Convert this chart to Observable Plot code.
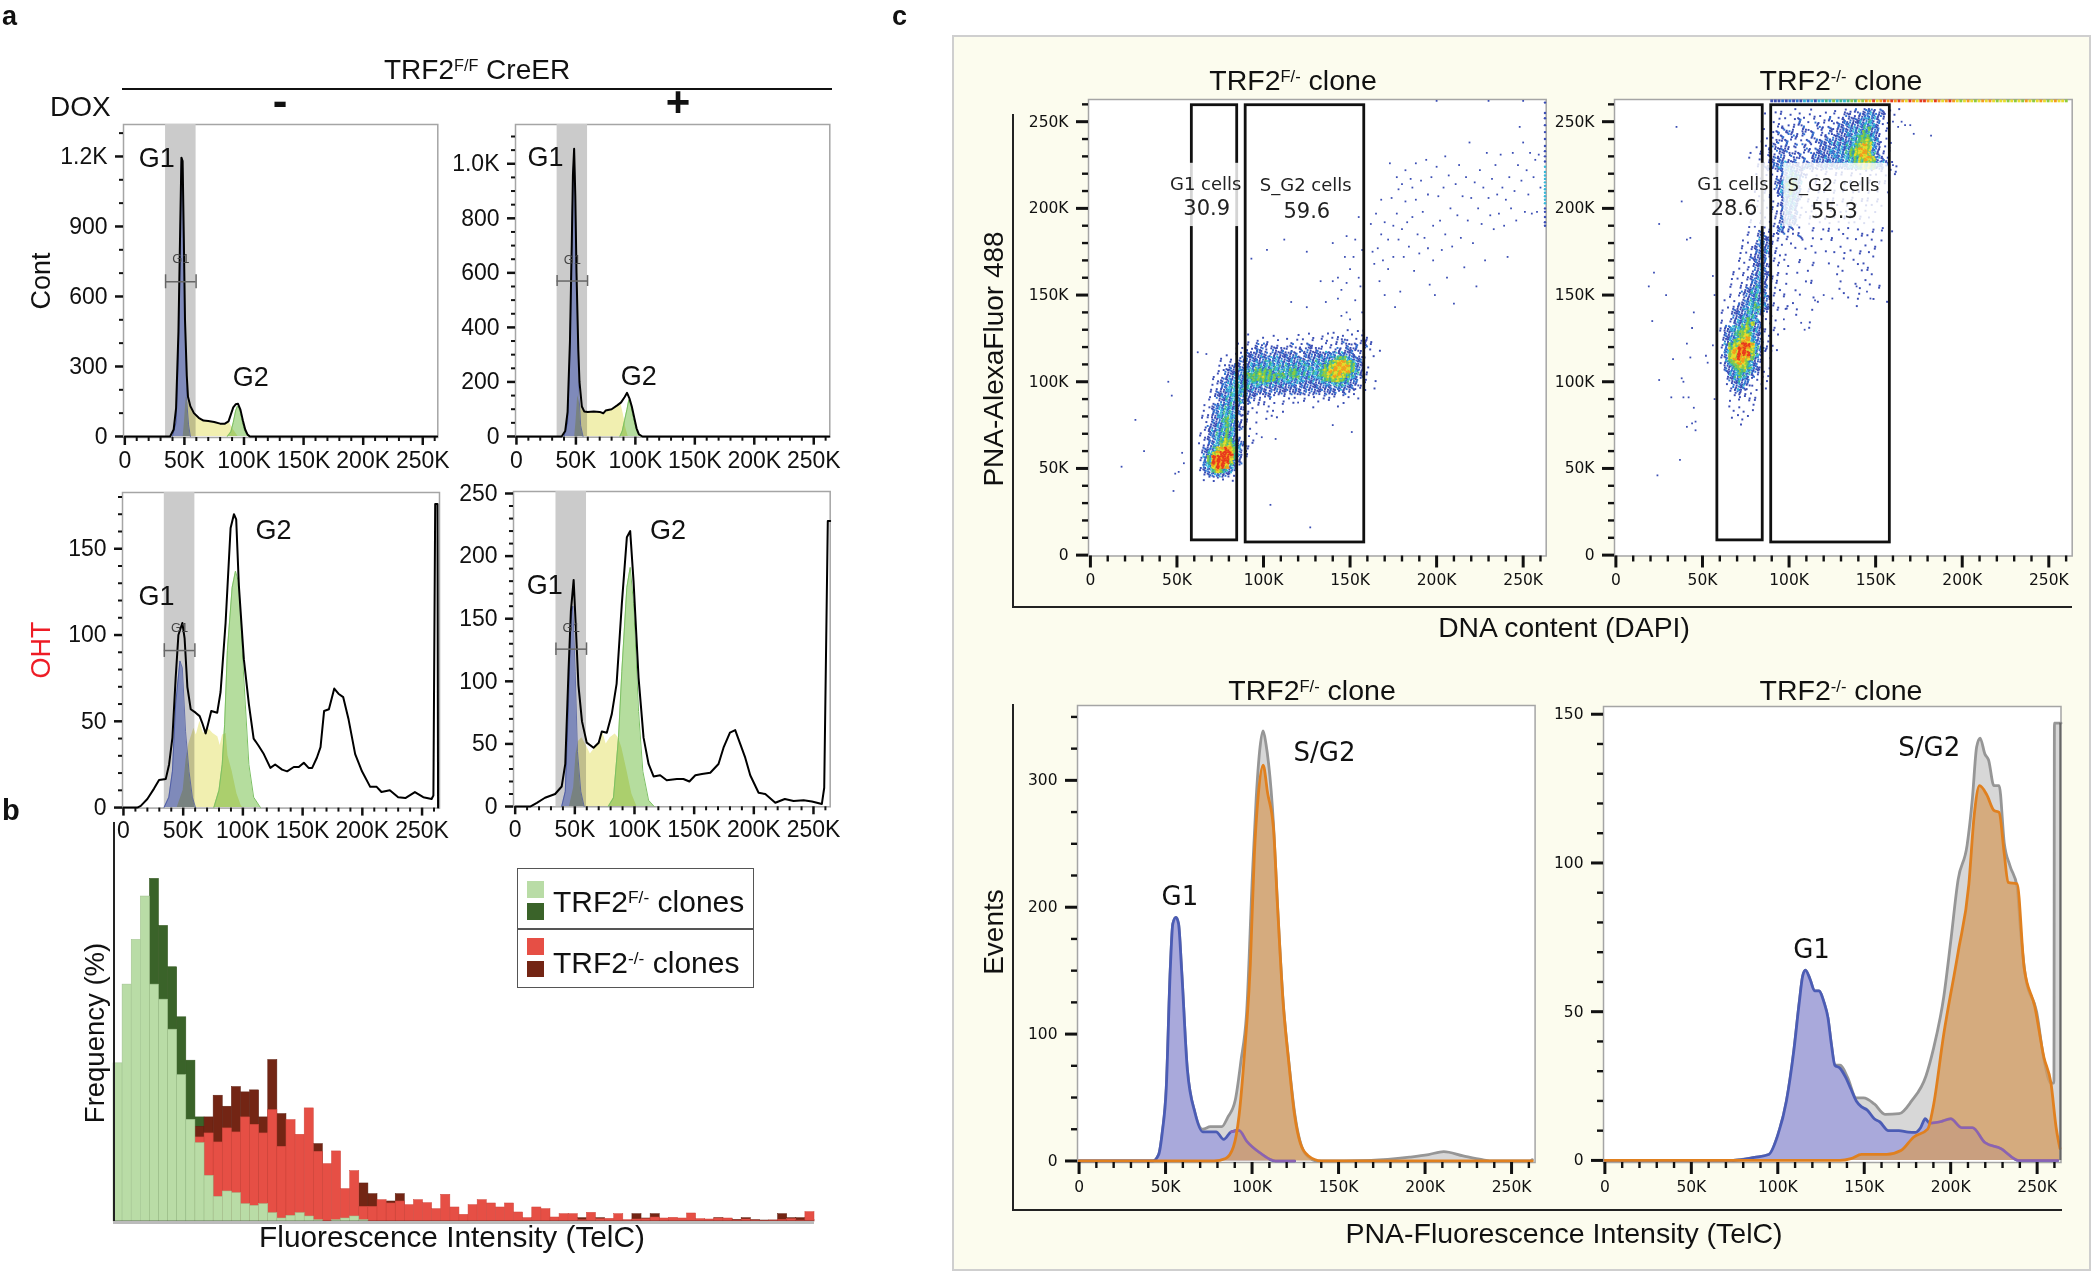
<!DOCTYPE html>
<html><head><meta charset="utf-8">
<script src="https://cdn.jsdelivr.net/npm/d3@7"></script>
<script src="https://cdn.jsdelivr.net/npm/@observablehq/plot@0.6"></script>
<style>
html,body{margin:0;padding:0;background:#fff}
#page{position:relative;width:2100px;height:1273px;overflow:hidden;font-family:"Liberation Sans",Arial,sans-serif;color:#111}
#page svg{position:absolute;background:transparent;overflow:visible}
.t{position:absolute;white-space:nowrap;line-height:normal}
sup{font-size:.58em;vertical-align:baseline;position:relative;top:-.5em;line-height:0}
</style></head><body><div id="page"></div>
<script>
// ---------- panel a : histograms, x in thousands, [x, count]
const a1_black=[[0,0],[38,0],[41,30],[43,120],[45,450],[46.5,900],[47.5,1195],[48.5,1180],[49.5,850],[50.5,500],[52,260],[53,170],[55,130],[58,100],[62,80],[66,68],[70,66],[75,62],[80,55],[84,55],[87,65],[89,95],[91,125],[93,138],[95,140],[97,115],[99,70],[101,30],[103,8],[105,0],[262,0]];
const a1_blue=[[40,0],[43,60],[45,350],[46.5,850],[47.5,1180],[48.5,1150],[49.5,800],[50.5,450],[52,150],[53.5,50],[55,0]];
const a1_yellow=[[49,0],[50,60],[51.5,170],[53,150],[55,125],[58,100],[62,80],[66,68],[70,66],[75,62],[80,55],[84,55],[88,58],[91,30],[95,0]];
const a1_green=[[86,0],[89,20],[91,60],[93,110],[94.5,130],[96,120],[98,70],[100,30],[102,8],[104,0]];
const a2_black=[[0,0],[38,0],[41,20],[43,90],[45,350],[46.5,700],[47.5,960],[48.5,1055],[49.5,880],[50.5,600],[52,320],[53,200],[55,110],[57,92],[60,90],[65,92],[70,90],[73,85],[75,95],[80,100],[85,115],[88,125],[91,145],[93,160],[95,140],[97,110],[99,70],[101,30],[103,8],[106,0],[263,0]];
const a2_blue=[[40,0],[43,50],[45,320],[46.5,700],[47.5,950],[48.5,1050],[49.5,860],[50.5,560],[52,200],[54,40],[56,0]];
const a2_yellow=[[49,0],[50,50],[51.5,150],[53,125],[55,100],[57,92],[60,90],[65,92],[70,90],[73,85],[75,95],[80,100],[85,110],[88,118],[90,80],[92,30],[94,0]];
const a2_green=[[87,0],[89,20],[91,60],[93,100],[94.5,135],[96,115],[98,70],[100,35],[102,10],[105,0]];
const a3_black=[[0,0],[11.7,0],[14.5,1],[20,5],[25.6,11],[29.8,16],[35.4,16.5],[38.2,25],[41,40.6],[43.7,75],[46,100],[49.3,107],[51.2,98],[53.5,70],[56.3,57],[60.4,55],[63.8,53],[66,49],[68.8,43],[70.7,48],[73.5,56],[78.5,55],[81.3,67],[85.5,107],[89.7,162],[92.5,170],[94.4,167],[96.6,129],[100.8,86],[105,60],[109,40],[113,36],[117.5,31],[123,23],[127,25],[132.8,22],[137,21],[142.6,23.5],[146.8,23.5],[151,26],[155,23],[158,23],[162,29],[165,35],[168,56],[172,57],[176.5,69],[180,66],[184,64],[188.5,51],[194,31],[199.7,21],[206.6,12],[212,12],[216,9],[223,10],[230,6],[236,5.5],[244,9],[251,6],[258,5],[259.5,7],[261,176],[262.9,176],[263.4,0]];
const a3_blue=[[34,0],[38,6],[41,21],[43.7,60],[47.3,85],[49.3,81],[52,44],[54.9,21],[57.7,6],[60.4,0]];
const a3_yellow=[[45,0],[50,10],[52.5,28],[54.8,37],[59,46],[61,42],[64,50],[67,43],[71,46],[75,43],[79,41],[81,36],[83,42],[86,43],[87.5,30],[91,21],[95,8],[98.6,1],[100,0]];
const a3_green=[[75.7,0],[80,10],[82.7,25],[84.7,48],[87,91],[91,127.5],[93.8,137],[96.6,130],[99.4,91],[102,60],[105,25],[109,6],[114.7,0]];
const a4_black=[[0,0],[12.6,0],[18.2,3],[25,7],[33.5,10],[39,16],[42,34],[44.7,108],[46.7,156],[49,181],[51,140],[53,97],[56,68],[60,51],[65.7,47],[70,51],[72.6,60],[76.8,59],[81,74],[85,98],[89.4,162],[93.6,215],[96.4,220],[99.2,180],[103.4,103],[107.6,55],[111.8,34],[116,24],[121.5,25],[127,21],[135.5,22],[141,22],[146,20],[151,25],[156.5,26],[163.5,27],[170.4,34],[174.6,47],[180,59],[184.4,61],[188.6,50],[192.8,39],[197,25],[204,11],[209.6,10],[218,3],[226,6],[233.3,4.5],[241.7,5],[248.7,4],[257,2],[259,15],[262,228],[264,228]];
const a4_blue=[[39,0],[42,12],[44.7,82],[46.7,148],[48.3,160],[50.3,108],[52.2,44],[55,12],[57.8,0]];
const a4_yellow=[[45.5,0],[49,15],[51,42],[53,52],[56,55],[60,48],[63,42],[67,47],[71,53],[73.5,59],[76.3,50],[79.6,55],[83.8,58],[86.6,55],[89.4,47],[93.6,29],[97.8,10],[102,0]];
const a4_green=[[78,0],[82.4,7],[86.6,55],[89.4,108],[93.6,175],[96.4,191],[99.2,162],[103.4,76],[107,28],[111.8,5],[116.5,0]];

// ---------- panel b : frequency per bin (arbitrary % units)
const b_light=[47.4,71,84.4,97.4,71,66.5,57.5,43.9,30.5,23.5,13.7,7.4,9,8.5,5.2,4.7,5.2,2.5,.9,1.7,2.5,1.5,.4,0,.4,.9,1.5,.4];
const b_darkGreen=[0,0,0,0,102.7,88.6,76.2,61.2,48.2,31.2,.4,.4,.4,.4,.4,.4,.4,.4,.4,.4,.4,.4,.4,.4,.4,.4,.4,.4];
const b_red=[0,0,0,0,0,0,0,0,0,25.2,26.4,23.7,27.9,26.7,31.2,29,26.4,33.4,22.4,30.4,26,33.9,20.9,17.2,21,9.7,15.1,4.4,4.4,6.4,5.4,6,4.9,6.4,5.5,3.7,8,4.2,2,4.9,6.4,5.4,4.2,5.4,2.7,1,4.2,3.7,1.2,2.2,2.2,.4,2.6,.7,.8,2.2,.4,.6,.7,1.2,.9,1.1,.9,2.4,.7,.6,.9,.9,.3,.6,.3,.2,.3,.5,.7,.3,2.8];
const b_darkRed=[0,0,0,0,0,0,0,0,0,28.4,31.2,37.7,34.4,40.3,38.7,39.3,31.2,48.4,32.2,0,0,0,23.2,0,0,0,0,11.4,8.2,0,6,8.2,0,0,0,0,0,0,0,0,0,0,0,0,0,0,0,0,0,0,0,1,0,1,0,0,0,2.2,.9,2.2,.6,0,0,0,0,0,1,.8,.5,1,.4,.3,.3,2.2,1,1,.4];

// ---------- panel c, top : density readings, 2.5K cells, top row first; . none, 1 sparse ... 8 hottest
const c1_rowTops=[130,127.5,125,122.5,120,117.5,115,112.5,110,107.5,105,102.5,100,97.5,95,92.5,90,87.5,85,82.5,80,77.5,75,72.5,70,67.5,65,62.5,60,57.5,55,52.5,50,47.5,45];
const c1_density=[
"..........................1...1.1..1.1.1....",
"............1..1..1.....1..1.1.1.11.1.11....",
"............1.1.1..1.1.1.1.1.11.1121.1121...",
"..........1.1.2121.1.12.1.21.1111.1212121...",
".........1.1112211212111212121.1121222111.1",
".......1.1112222212222221222223232322.1..",
"......1.1.1222232333223322223333455432 21.1".replace(" ",""),
"......1.112223334433333343334345677653 21..".replace(" ",""),
".....1.12222334444443444344334567777532 11.".replace(" ",""),
".....11222334455554444554444456777775421..",
"....11.2233455565555545544444566776543 21..".replace(" ",""),
"....1122333445555554444343333455665432 11.1".replace(" ",""),
"....1123334444444333333322222333444322 11..".replace(" ",""),
"...1.1234444433222222222222222222322 2111.1".replace(" ",""),
"...112234443222222122122221221222121 1.....".replace(" ",""),
"...1123444322211121.11.1.111.1111.11.1......",
"...1.123444321111.1.1.1..1..1..1..1.........",
"..11233443211.1.11..1......1.....1..........",
"..1.2344432111..1.1.1.......................",
".1.1234443211.1..1..........................",
".1.12345431.1...1..1........................",
"..11234543211.1.............................",
"..122345432.1...............................",
".1123445431.................................",
".1123445421.1...............................",
"..1224565321.1..............................",
".1123466643211..............................",
".1234678753.1...............................",
".1246788853.1...............................",
".1358888752.1...............................",
".1358888632.................................",
".1347887421.................................",
".123575431..................................",
"..12332211..................................",
"..1.111.1..................................."];
const c1_sparse=[[18,51],[26,78],[31,60],[45,100],[47,92],[53,59],[49,47],[48,37],[51,48],[104,29],[127,16],[62,117],[67,116],[54,53],
[93,171],[102,176],[112,182],[125,175],[140,180],[148,184],[155,195],[153,182],[157,176],[150,165],[158,168],[147,172],[143,160],[140,158],[148,157],[145,153],[156,155],[133,158],[125,143],[116,146],[136,146],[148,140],[153,147],[157,140],[150,136],[145,138],[143,148],[152,172],[155,160],[90,60],[88,74],[96,70],[99,68],[107,67],[120,88],[140,75],[151,71],
[162,191],[163,175],[164,168],[165,197],[166,177],[167,158],[168,205],[168,185],[169,170],[170,192],[170,150],[172,182],[172,165],[173,226],[174,206],[175,190],[175,172],[176,143],[177,218],[177,197],[178,211],[178,182],[179,152],[180,214],[180,188],[181,172],[182,222],[182,204],[183,192],[184,178],[185,217],[186,212],[186,195],[187,164],[188,226],[188,205],[189,185],[190,174],[191,216],[192,198],[193,183],[194,228],[195,208],[195,177],[196,156],[197,218],[198,190],[198,170],[199,150],[200,224],[201,207],[202,193],[203,176],[204,212],[205,185],[205,230],[206,160],[207,219],[208,200],[209,178],[210,145],[211,214],[212,196],[213,225],[214,183],[215,207],[216,166],[217,218],[218,193],[219,238],[220,206],[221,180],[222,215],[223,155],[224,200],[225,222],[226,191],[227,212],[228,170],[229,232],[230,206],[231,196],[232,217],[233,188],[234,225],[235,208],[236,197],[237,231],[238,212],[239,190],[240,205],[241,172],[242,218],[243,200],[244,232],[245,210],[246,193],[247,225],[248,247],[249,216],[250,238],[251,198],[252,222],[253,208],[254,232],[255,197],[256,218],[257,228],[258,198],[259,231],[260,212],[230,262],[250,262],[200,262]];
const c1_edge=[190,192,195,198,200,203,205,207,209,211,213,215,217,219,221,224,227,230,233,236,240,244,248,252,255,261];
const c2_rowTops=[257.5,255,252.5,250,247.5,245,242.5,240,237.5,235,232.5,230,227.5,225,222.5,220,217.5,215,212.5,210,207.5,205,202.5,200,197.5,195,192.5,190,187.5,185,182.5,180,177.5,175,172.5,170,167.5,165,162.5,160,157.5,155,152.5,150,147.5,145,142.5,140,137.5,135,132.5,130,127.5,125,122.5,120,117.5,115,112.5,110,107.5,105,102.5,100,97.5,95,92.5,90,87.5,85,82.5,80,77.5];
const c2_density=[
"..............1.1..1...1..1.1.1112.23212.1.1.",
"............1...1.1.1.11.1.11.12112233221.1",
"...............1.1.121.1..12.12122334321...",
"..............11.1.12.1.2.1.1223223443211..",
"............1..12.11.21.12.212223334532.1...",
"..............12.221.2.2.1.2.2233345432.1...",
"............1.1.2.12.1.2.12.22233455532.1...",
"...........1.1.2121.1.2.2223233344566431.1..",
"..........1.1.2.12.2.2.1.22223344567642.1..",
"...........1.21222.1.12.2223333456776321.1..",
".........1.1.2112.2121.22223333456776421...",
"........1..1.12221.212.222323334456776321.",
"..........1.112233221222223333334566653321.",
"..........1122233432233222333333445665321.1",
"...........1.1.1234321.1.11.1.1.11.1.1.1.11...",
"..........1.1.112344321.1.1.1.1.1.1.1.1.1.1..",
"...........1.11234543.1.1.1.1.1.1.1.1.1.1....",
"..........1.1.1235653.1.1.1.1.1.1.1.1.1.1....",
"..........1.1.1234642.1.1.1.1.1.1.1.1.1......",
"..........1.11.234532.1.1.1.1.1.1.1.1.1.1....",
"...........1.1.123442.1.1.1.1.1.1.1.1.1......",
"..........1.1.1123431.1.1.1.1.1.1.1.1.1......",
"..........1.1.1123331..1.1.1.1.1.1.1.1.1.....",
".........1.1.1112332.1.1.1.1.1.1.1.1.1......",
".........1.1.11123321.1.1.1.1.1.1.1.........",
".........1.11.1123321.1.1.1.1.1.1.1.1........",
".........1.1.1112322..1..1.1.1.1.1.1.1.......",
"........1.1.1112312.1..1.1.1.1.1.1...1.1.....",
"........1.121112211.1..1...1..1...1..1.1.1..",
"........1.122111.1..2..1...1...1..1.1.....",
".......11.132211.1...1...1.1.....1...1.1...",
".......1.123221.1.1....1.....1.....1.1.....",
".......1.1223211...1.1....1.....1.1..1......",
"......1.11232211.1......1...1.1...1.1......",
"......1.1223211.1...1.........1.1....1......",
"......11.1222111....1..1...1.....1.1........",
"......1.112321.1.1.....1.....1......1......",
".....1.1112321.1...1..1.......1...1.1......",
".....1.112232211.1...........1.......1.....",
"....1.1.12332111.....1.1.....1.....1.......",
"....1.11123321.1.1.....1.........1..1.1.....",
"....1.1123432111...1.........1....1...1......",
"....1.1224432.1.1...1.........1...1..........",
"....1.112343321.1......1.......1.1...1......",
"...1.11234432.1...1.....1...............1.....",
"...1.12234543211.1...............1...........",
"..1.1223444321.1.1.1...1.....................",
"..1.12234432.1.....1.........................",
"..1.1234543.1.1..............................",
"..1.12345632.1........1......................",
"..12344564321.1.1.....1......................",
"..12345654321.1..............................",
"..1234567421.1.1.............................",
"..1235677432.1...............................",
"..13567887421.1..............................",
"..136788764321.1.............................",
"..1367888642.1...............................",
"..1267877531.1...............................",
"..1356775321.................................",
"...235665421.1...............................",
"...2345543211................................",
"...134543211.1...............................",
"...12343211.1................................",
"...1123321.1.................................",
"....12321.1.1................................",
"....1121.1...................................",
".....1111.1..................................",
"....1.1.1.1..................................",
"....1.1..1...................................",
".....1.1.1...................................",
"......1.1....................................",
"....1..1.....................................",
"......1......................................"];
const c2_sparse=[[35,247],[38,204],[25,191],[41,182],[43,183],[22,163],[19,155],[29,150],[45,140],[21,135],[44,131],[41,122],[33,113],[43,114],[52,115],[53,111],[25,101],[38,102],[39,100],[32,91],[39,91],[42,91],[45,85],[46,77],[44,76],[41,74],[46,72],[37,55],[24,46],[57,90],[56,121],[57,150],[56,161],[97,136],[98,142],[107,134],[109,130],[115,147],[120,150],[125,148],[145,152],[147,148],[139,155],[165,250],[167,248],[170,248],[172,243],[182,242],[160,250],[163,247],[158,235],[160,225]];
const c2_topLine="1112121213231334353434546576867878787687688768767876567656767656656565765676567665";

// ---------- panel c, bottom : overlays, x in thousands, [x, events]
const c3_gray=[[0,0],[42.7,0],[46,5],[48.2,23.6],[50.4,57],[52.7,150],[54.2,187],[56,192],[57.5,187],[59.3,150],[62.6,72],[67,38],[71.5,25],[75.9,27],[82.5,27],[85.8,34],[90.3,48],[93.6,79],[96.9,118],[100.2,225],[102.4,286],[104.6,326],[106.4,339],[108,329],[112.4,265],[114.6,205],[118,125],[121.2,79],[124.6,38],[131.1,5],[137.8,0],[168.8,.5],[191,3],[202,5],[210.8,7.4],[222,4],[233,1],[239.6,0],[260.6,0],[262,1]];
const c3_blue=[[0,0],[42.7,0],[46,5],[48.2,23.6],[50.4,57],[52.7,150],[54.2,187],[56,192],[57.5,187],[59.3,150],[62.6,72],[67,38],[71.5,23],[79.2,23],[83.6,17],[88,23],[92.5,24],[96.9,15.6],[104.6,6.4],[113.5,0],[124.6,0]];
const c3_orange=[[0,0],[78,0],[84.7,2],[89.2,11],[92.5,36],[95.8,88],[99,155],[101.3,241],[103.5,287],[106.4,312],[109,290],[112.4,262],[114.6,204],[118,124],[121.2,78],[124.6,36],[127.9,14],[132.3,4.3],[140,0],[262,0]];
const c4_gray=[[74.2,0],[86.6,1],[94.8,2],[100,8.5],[105,20],[109.3,37],[112.4,53],[114.4,62],[116,64],[118.6,61],[121.3,57],[123.7,57],[126.8,53],[129,48],[131,39],[133,32],[136.1,32],[140.3,28],[145.4,21],[149.6,21],[155.8,19],[162,15.5],[170.2,15.7],[177.4,20],[185.7,28.4],[189.8,37],[196,55],[200,73.5],[204.3,94.4],[209.5,106],[212.6,122],[215,139],[217,142],[219.8,136.6],[221.9,134.6],[225,126],[228,126],[231,106.6],[234.3,99],[238.4,92],[240.5,76.5],[243.5,61],[249.7,50],[253.9,34],[258,26],[259.7,26],[260,147],[263.8,147]];
const c4_blue=[[0,0],[74.2,0],[86.6,1],[94.8,2],[100,8.5],[105,20],[109.3,37],[112.4,53],[114.4,62],[116,64],[118.6,61],[121.3,57],[123.7,57],[126.8,53],[129,48],[131,39],[133,32],[136,31],[139.2,28],[142.3,24],[145.4,20],[148.5,18],[151.6,17],[155.8,14],[158.9,13],[164,10],[170,10],[175.4,9.5],[179.5,9.4],[182.6,11],[185.3,14],[187.8,12.5],[194,13],[200,14],[206.4,11],[212.6,11],[219.8,6],[229,4],[239.4,0],[262,0]];
const c4_orange=[[0,0],[136,0],[142.3,.6],[148.5,2],[163,2],[171.2,3.3],[178.5,7.8],[186.7,10.5],[189.8,17.7],[196,42.5],[204.3,70],[210.5,92.8],[213.6,116],[216.7,126],[220.8,123],[225,117.7],[228,117],[231,103],[233.2,93.5],[238.4,93],[242.5,64.7],[248.7,51.6],[253.9,34.7],[258,26],[261,11],[263.2,4]];

// ---------- ticks
const xMajor=[0,50,100,150,200,250];
const xMinor=[10,20,30,40,60,70,80,90,110,120,130,140,160,170,180,190,210,220,230,240,260];
const a1_yMajor=[0,300,600,900,1200], a1_yMinor=[100,200,400,500,700,800,1000,1100,1300];
const a2_yMajor=[0,200,400,600,800,1000], a2_yMinor=[50,100,150,250,300,350,450,500,550,650,700,750,850,900,950,1050,1100];
const a3_yMajor=[0,50,100,150], a3_yMinor=[10,20,30,40,60,70,80,90,110,120,130,140,160,170,180];
const a4_yMajor=[0,50,100,150,200,250], a4_yMinor=[10,20,30,40,60,70,80,90,110,120,130,140,160,170,180,190,210,220,230,240];
const c_yMajor=xMajor, c_yMinor=xMinor;
const c3_yMajor=[0,100,200,300], c3_yMinor=[25,50,75,125,150,175,225,250,275,325,350];
const c4_yMajor=[0,50,100,150], c4_yMinor=[10,20,30,40,60,70,80,90,110,120,130,140];

// ---------- helpers
const page=document.getElementById("page");
const X=d=>d[0], Y=d=>d[1];
const kFmt=d=>d===0?"0":d+"K";
const LIB='"Liberation Sans",Arial,sans-serif', DJV='"DejaVu Sans",sans-serif';
function panel({box:[L,T,R,B],xd,yd,marks,yMajor,yMinor,yFmt=String,font,size,fill="white",stroke="#a5a5a5",major,minor,tw,pad,ypad}){
  const ml=100,mr=20,mt=20,mb=60;
  const svg=Plot.plot({width:R-L+ml+mr,height:B-T+mt+mb,marginLeft:ml,marginRight:mr,marginTop:mt,marginBottom:mb,
    x:{domain:xd},y:{domain:yd},r:{type:"identity"},
    style:{fontFamily:font,fontSize:size+"px",color:"#111",background:"transparent",overflow:"visible"},
    marks:[Plot.frame({fill,stroke,strokeWidth:1.5}),...marks,
      Plot.axisX(xMinor,{anchor:"bottom",tickSize:minor,strokeWidth:tw*.8,tickFormat:()=>"",label:null}),
      Plot.axisY(yMinor,{anchor:"left",tickSize:minor,strokeWidth:tw*.8,tickFormat:()=>"",label:null}),
      Plot.axisX(xMajor,{anchor:"bottom",tickSize:major,strokeWidth:tw,tickPadding:pad,tickFormat:kFmt,label:null}),
      Plot.axisY(yMajor,{anchor:"left",tickSize:major,strokeWidth:tw,tickPadding:ypad,tickFormat:yFmt,label:null})]});
  svg.style.left=(L-ml)+"px";svg.style.top=(T-mt)+"px";page.appendChild(svg);
}
function text(html,x,y,size,o={}){ // y is the baseline
  const e=document.createElement("div");e.className="t";e.innerHTML=html;
  e.style.fontSize=size+"px";e.style.left=x+"px";e.style.color=o.color||"#111";
  if(o.weight)e.style.fontWeight=o.weight;
  if(o.rot){e.style.top=y+"px";e.style.transform="translate(-50%,-50%) rotate(-90deg)";}
  else{e.style.top=(y-.905*size)+"px";if(o.center)e.style.transform="translateX(-50%)";}
  page.appendChild(e);
}
function box(l,t,w,h,css){const e=document.createElement("div");e.style.cssText=`position:absolute;left:${l}px;top:${t}px;width:${w}px;height:${h}px;${css}`;page.appendChild(e);}

function histMarks(black,blue,yellow,green,gate,gateLabel,cap,labels){
  const blend={mixBlendMode:"multiply"};
  return [
    Plot.rect([0],{x1:34.2,x2:59.8,fill:"#cbcbcb"}),
    Plot.areaY(green,{x:X,y:Y,fill:"#b5dd9e",...blend}),
    Plot.areaY(yellow,{x:X,y:Y,fill:"#f1efb0",...blend}),
    Plot.areaY(blue,{x:X,y:Y,fill:"#a0aeea",...blend}),
    Plot.line(blue,{x:X,y:Y,stroke:"#3b4a9c",strokeWidth:1,strokeOpacity:.7}),
    Plot.line(green,{x:X,y:Y,stroke:"#7cc063",strokeWidth:1}),
    Plot.line(black,{x:X,y:Y,stroke:"#000",strokeWidth:2}),
    Plot.ruleY([gate],{x1:34.2,x2:59.8,stroke:"#666",strokeWidth:1.5}),
    Plot.ruleX([34.2,59.8],{y1:gate-cap,y2:gate+cap,stroke:"#666",strokeWidth:1.5}),
    Plot.text(["G1"],{x:47,y:gateLabel,fontSize:13,fill:"#444"}),
    ...labels.map(([s,x,y])=>Plot.text([s],{x,y,textAnchor:"start",lineAnchor:"bottom",fontSize:27,fill:"#111"}))
  ];
}

// ---------- chart furniture : panel c background
box(952,35,1139,1236,"background:#fcfcee;border:2px solid #cfcfcf;box-sizing:border-box");
box(1012,114,1.6,492,"background:#222"); box(1012,606,1060,2,"background:#222");
box(1012,704,1.6,505,"background:#222"); box(1012,1209,1050,2,"background:#222");

// ---------- panel a
const aOpt={font:LIB,size:23,major:8,minor:4,tw:2.5,pad:6,ypad:8};
panel({...aOpt,box:[122.7,123.7,437,436.7],xd:[-1.1,262.6],yd:[-4.3,1337],yMajor:a1_yMajor,yMinor:a1_yMinor,yFmt:d=>d>=1000?(d/1000).toFixed(1)+"K":d,
  marks:histMarks(a1_black,a1_blue,a1_yellow,a1_green,663,760,30,[["G1",11.7,1156],["G2",90.6,217]])});
panel({...aOpt,box:[514.7,124,829,436.7],xd:[-.8,263.5],yd:[-2.6,1144],yMajor:a2_yMajor,yMinor:a2_yMinor,yFmt:d=>d>=1000?(d/1000).toFixed(1)+"K":d,
  marks:histMarks(a2_black,a2_blue,a2_yellow,a2_green,570,649,20,[["G1",9.3,990],["G2",87.7,187]])});
panel({...aOpt,box:[121.7,491.7,438.7,807.3],xd:[-.8,264.6],yd:[-.3,182.6],yMajor:a3_yMajor,yMinor:a3_yMinor,
  marks:histMarks(a3_black,a3_blue,a3_yellow,a3_green,91,104,4,[["G1",12.5,117.5],["G2",110.6,155.6]])});
panel({...aOpt,box:[513.3,490.7,830,806],xd:[-1.4,264],yd:[-.2,251.6],yMajor:a4_yMajor,yMinor:a4_yMinor,
  marks:histMarks(a4_black,a4_blue,a4_yellow,a4_green,125.7,143,5,[["G1",9.8,169.6],["G2",113,213.6]])});
text('a',2,25,27,{weight:700}); text('b',2,820,29,{weight:700}); text('c',892,25,27,{weight:700});
text('TRF2<sup>F/F</sup> CreER',384,79,28);
box(122,88,710,2,"background:#111");
text('DOX',50,116,28);
text('-',280,116,44,{weight:700,center:true});
text('+',678,116,42,{weight:700,center:true});
text('Cont',41,281,27,{rot:true});
text('OHT',41,650,27,{rot:true,color:"#ee1c25"});

// ---------- panel b
{
  const bars=(v,fill,stroke)=>Plot.rectY(v.map((y,i)=>({i,y})).filter(d=>d.y>0),{x1:d=>d.i,x2:d=>d.i+1,y:"y",fill,stroke,strokeWidth:.5});
  const svg=Plot.plot({width:701,height:352,marginLeft:0,marginRight:0,marginTop:0,marginBottom:1,
    x:{domain:[0,77],axis:null},y:{domain:[0,105.2],axis:null},
    style:{background:"transparent",overflow:"visible"},
    marks:[bars(b_darkGreen,"#3a6329","#33571f"),bars(b_darkRed,"#732514","#5f2012"),bars(b_red,"#e64f45","#cf463c"),bars(b_light,"#b9dca6","#9dbf8c"),
      Plot.ruleY([0],{stroke:"#222",strokeWidth:1.5})]});
  svg.style.left="113.3px";svg.style.top="870px";page.appendChild(svg);
  box(113,822,1.6,399,"background:#222"); box(113,1221,701,2.5,"background:#bbb");
  text('Frequency (%)',95,1033,27.5,{rot:true});
  text('Fluorescence Intensity (TelC)',452,1247,29.8,{center:true});
  box(517,868,237,120,"border:1.5px solid #555;box-sizing:border-box;background:#fff");
  box(517,928,237,1.5,"background:#555");
  box(527,881,17,17,"background:#b9dca6"); box(527,903,17,17,"background:#3a6329");
  box(527,938,17,17,"background:#e64f45"); box(527,961,17,16,"background:#732514");
  text('TRF2<sup>F/-</sup> clones',553,912,30);
  text('TRF2<sup>-/-</sup> clones',553,973,30);
}

// ---------- panel c top
const densityColors={1:"#3a4db4",2:"#2f73d2",3:"#35b8d8",4:"#43bb80",5:"#8fcb3e",6:"#e8dc2b",7:"#f59b1d",8:"#e8391c"};
// how each density reading is drawn inside its 2.5K cell: the colours of its specks, and where specks sit in the cell
const speckColors={1:[1],2:[1,1,2,1],3:[1,2,3,1,2],4:[2,3,4,1,3,2],5:[3,4,5,2,4,5],6:[4,5,6,3,5,6,5],7:[5,6,7,6,7,5,7,6],8:[7,8,8,7,8,6,8,8]};
const speckSpots=[[.2,.7],[.8,.3],[.5,.9],[.1,.2],[.65,.55],[.35,.4],[.9,.85],[.45,.1]];
function cells(rows,tops,x0){
  const specks=[],under=[];
  rows.forEach((s,r)=>[...s].forEach((c,k)=>{
    if(c===".")return;const d=+c;
    if(d>=5)under.push({x:x0+2.5*k+1.25,y:tops[r]-1.25,d:d-1});
    speckColors[d].forEach((col,j)=>{const p=speckSpots[(r*3+k*5+j)%8];specks.push({x:x0+2.5*(k+p[0]),y:tops[r]-2.5*p[1],d:col});});
  }));
  return {specks:specks.sort((a,b)=>a.d-b.d),under};
}
function gateMarks(wash,labels){
  return [
    Plot.rect([[58.6,84.8,8.5,259.5],[89.7,158.2,7.3,259.5]],{x1:d=>d[0],x2:d=>d[1],y1:d=>d[2],y2:d=>d[3],fill:"none",stroke:"#111",strokeWidth:2.8}),
    Plot.rect(wash,{x1:d=>d[0],x2:d=>d[1],y1:189.5,y2:226,fill:"white",fillOpacity:.82}),
    ...labels.map(([s,x,y,f=18])=>Plot.text([s],{x,y,lineAnchor:"bottom",fontSize:f,fill:"#222"}))
  ];
}
function scatterMarks(rows,tops,x0,sparse){
  const {specks,under}=cells(rows,tops,x0);
  return [
    Plot.dot(sparse,{x:X,y:Y,r:1,symbol:"square",fill:"#3a4db4"}),
    Plot.dot(under,{x:"x",y:"y",r:2.45,symbol:"square",fill:d=>densityColors[d.d]}),
    Plot.dot(specks,{x:"x",y:"y",r:1.1,symbol:"square",fill:d=>densityColors[d.d]})
  ];
}
const cOpt={font:DJV,size:15.5,major:12,minor:6,tw:3,pad:6,ypad:8,fill:"white",stroke:"#a5a5a5"};
panel({...cOpt,box:[1087.8,99,1545.5,555.5],xd:[-1.1,263.3],yd:[-.5,262.8],yMajor:c_yMajor,yMinor:c_yMinor,yFmt:kFmt,
  marks:[...scatterMarks(c1_density,c1_rowTops,60,c1_sparse),
    Plot.dot(c1_edge,{x:262.6,y:d=>d,r:1.2,fill:d=>d>200&&d<225?"#35b8d8":"#3a4db4"}),
    ...gateMarks([[55,88]],[["G1 cells",66.6,210.6],["30.9",67.2,196,21],["S_G2 cells",124.4,210],["59.6",125,194.5,21]])]});
panel({...cOpt,box:[1614.3,99,2072,555.5],xd:[-.8,263.5],yd:[-.5,262.8],yMajor:c_yMajor,yMinor:c_yMinor,yFmt:kFmt,
  marks:[...scatterMarks(c2_density,c2_rowTops,55,c2_sparse),
    Plot.dot([...c2_topLine].map((c,i)=>({x:90+2.1*i,d:+c})),{x:"x",y:262,r:1.6,symbol:"square",fill:d=>densityColors[d.d]}),
    ...gateMarks([[57,88.7],[97,157]],[["G1 cells",67.6,210.6],["28.6",68.2,196,21],["S_G2 cells",125.6,210],["55.3",126.2,194.5,21]])]});
text('TRF2<sup>F/-</sup> clone',1293,90,28.5,{center:true});
text('TRF2<sup>-/-</sup> clone',1841,90,28.5,{center:true});
text('PNA-AlexaFluor 488',994,359,28,{rot:true});
text('DNA content (DAPI)',1564,637,28.3,{center:true});

// ---------- panel c bottom
function overlay(gray,blue,orange,overlapFrom,labels,extra=[]){
  const o={x:X,y:Y,curve:"monotone-x"};
  return [
    Plot.areaY(gray,{...o,fill:"#d7d7d7"}),Plot.line(gray,{...o,stroke:"#969696",strokeWidth:2.8}),
    Plot.areaY(blue,{...o,fill:"#a9a9db"}),Plot.line(blue,{...o,stroke:"#4b5cb5",strokeWidth:2.8}),
    Plot.areaY(orange,{...o,fill:"#d49c60",fillOpacity:.75}),
    Plot.line(blue.filter(d=>d[0]>=overlapFrom),{...o,stroke:"#8a62b4",strokeWidth:2.5}),
    Plot.line(orange,{...o,stroke:"#e0801f",strokeWidth:2.8}),
    ...extra,
    ...labels.map(([s,x,y])=>Plot.text([s],{x,y,textAnchor:"start",lineAnchor:"bottom",fontSize:26,fill:"#111"}))
  ];
}
panel({...cOpt,box:[1077.4,705,1535,1162],xd:[-.9,263.6],yd:[-1.2,359],yMajor:c3_yMajor,yMinor:c3_yMinor,
  marks:overlay(c3_gray,c3_blue,c3_orange,88,[["G1",47.7,202],["S/G2",124,315.5]])});
panel({...cOpt,box:[1603.2,706,2060.7,1162],xd:[-.8,263.8],yd:[-.7,152.6],yMajor:c4_yMajor,yMinor:c4_yMinor,
  marks:overlay(c4_gray,c4_blue,c4_orange,187,[["G1",108.9,68],["S/G2",169.7,136]],[Plot.ruleX([263.4],{y1:0,y2:147,stroke:"#666",strokeWidth:2})])});
text('TRF2<sup>F/-</sup> clone',1312,700,28.5,{center:true});
text('TRF2<sup>-/-</sup> clone',1841,700,28.5,{center:true});
text('Events',994,932,28,{rot:true});
text('PNA-Fluorescence Intensity (TelC)',1564,1243,28.5,{center:true});
</script></body></html>
